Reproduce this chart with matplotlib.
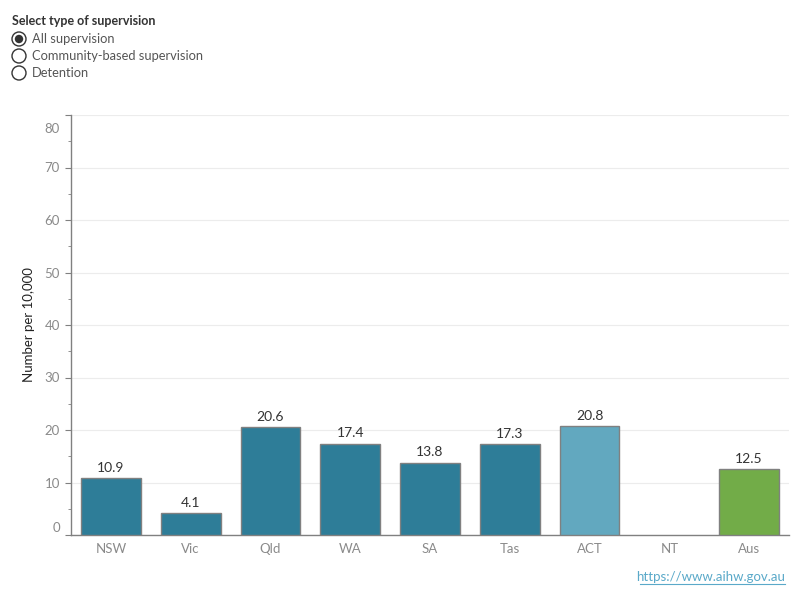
import matplotlib
matplotlib.use("Agg")
import matplotlib.pyplot as plt
from matplotlib.patches import Circle
from matplotlib.transforms import ScaledTranslation
import numpy as np

plt.rcParams['font.family'] = ['Lato', 'DejaVu Sans']

categories = ["NSW", "Vic", "Qld", "WA", "SA", "Tas", "ACT", "NT", "Aus"]
values = [10.9, 4.1, 20.6, 17.4, 13.8, 17.3, 20.8, np.nan, 12.5]
colors = ["#2E7D98"] * 6 + ["#62A8BF", "#2E7D98", "#72AC48"]
yticks = [0, 10, 20, 30, 40, 50, 60, 70, 80]
radio_options = ["All supervision", "Community-based supervision", "Detention"]

fig = plt.figure(figsize=(8, 6), dpi=100)
ax = fig.add_axes([71/800, 65/600, 718/800, 420/600])

x = np.arange(len(categories))
ax.bar(x, values, width=0.75, color=colors, edgecolor="#808080", linewidth=1, zorder=3)
for xi, v in zip(x, values):
    if not np.isnan(v):
        ax.text(xi, v + 0.8, f"{v:.1f}", ha="center", va="bottom", fontsize=10, color="#333333")

ax.set_xlim(-0.5, len(categories) - 0.5)
ax.set_ylim(0, 80)
ax.set_xticks(x)
ax.set_xticklabels(categories, fontsize=9.5, color="#8a8a8a")
ax.set_yticks(yticks)
ax.set_yticklabels([str(t) for t in yticks], fontsize=9.5, color="#8a8a8a")
ax.set_yticks(np.arange(5, 80, 10), minor=True)
ax.tick_params(axis="x", length=0, pad=6)
ax.tick_params(axis="y", which="major", length=4, color="#808080", pad=4)
ax.tick_params(axis="y", which="minor", length=2, color="#808080")
labels = ax.get_yticklabels()
labels[0].set_va("bottom")
labels[-1].set_va("center")
labels[-1].set_transform(labels[-1].get_transform() + ScaledTranslation(0, -10/72, fig.dpi_scale_trans))
labels[0].set_transform(labels[0].get_transform() + ScaledTranslation(0, 1/72, fig.dpi_scale_trans))
ax.grid(axis="y", color="#ececec", linewidth=0.8, zorder=0)
for s in ["top", "right"]:
    ax.spines[s].set_visible(False)
for s in ["left", "bottom"]:
    ax.spines[s].set_color("#808080")
    ax.spines[s].set_linewidth(1)
ax.set_ylabel("Number per 10,000", fontsize=9.5, color="#222222", labelpad=7)

# overlay for header / radio buttons / url
ov = fig.add_axes([0, 0, 1, 1], zorder=5)
ov.set_xlim(0, 800)
ov.set_ylim(600, 0)
ov.set_aspect("equal")
ov.axis("off")
ov.patch.set_alpha(0)
ov.text(12, 21, "Select type of supervision", fontsize=9, fontweight="bold", color="#333333", va="center")
for i, opt in enumerate(radio_options):
    cy = 39 + i * 17
    ov.add_patch(Circle((19, cy), 7, facecolor="white", edgecolor="#333333", linewidth=1))
    if i == 0:
        ov.add_patch(Circle((19, cy), 4.2, facecolor="#333333", edgecolor="none"))
    ov.text(32, cy, opt, fontsize=9.3, color="#555555", va="center")
ov.text(785, 577, "https://www.aihw.gov.au", fontsize=9.5, color="#5AA9C9", ha="right", va="center")
ov.plot([640, 785], [584, 584], color="#5AA9C9", linewidth=0.8)

fig.savefig("out.png", dpi=100)
